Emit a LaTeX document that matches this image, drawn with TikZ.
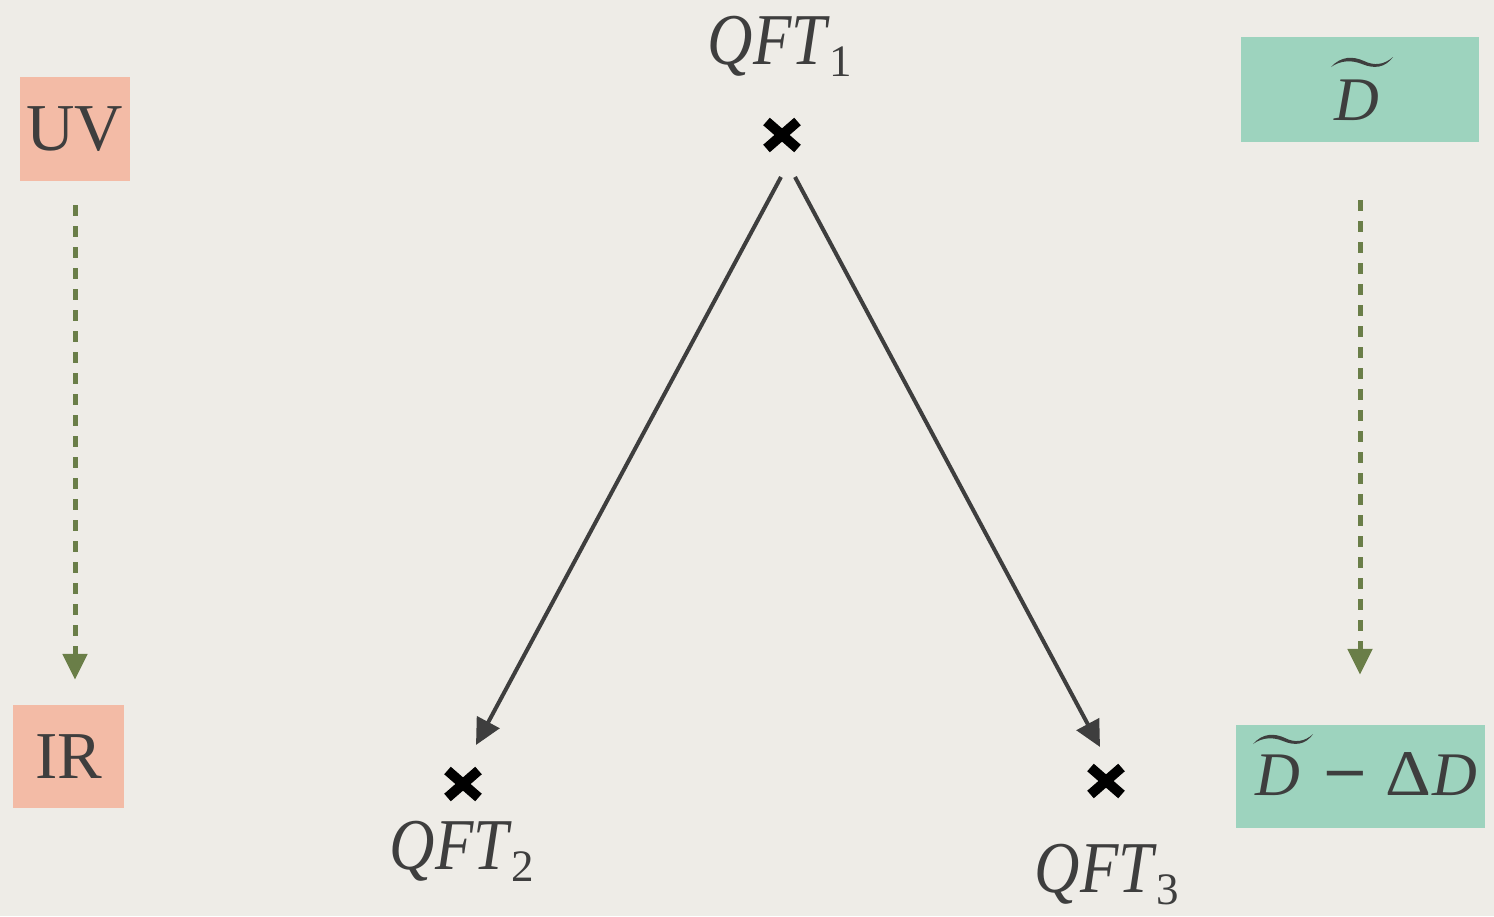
\documentclass[tikz,border=0pt]{standalone}
\usepackage{fontspec}
\setmainfont{Liberation Serif}
\usetikzlibrary{arrows.meta,shapes.misc,calc}

\definecolor{paper}{RGB}{238,236,231}
\definecolor{ink}{RGB}{62,62,62}
\definecolor{salmon}{RGB}{243,187,166}
\definecolor{mint}{RGB}{157,211,190}
\definecolor{olive}{RGB}{106,126,72}

% italic name with an upright lowered index
\newcommand{\qname}[1]{\scalebox{0.86}[1]{\itshape QFT}\hspace{3pt}{\fontsize{45}{45}\selectfont\raisebox{-12pt}{#1}}}
% bold minus sign on the math axis
\newcommand{\bigminus}{\raisebox{-9pt}{\scalebox{1.25}[1.5]{−}}}

\begin{document}
\begin{tikzpicture}[x=1pt,y=-1pt,
  box/.style={fill=#1, draw=none, inner sep=0pt, text=ink},
  bigtext/.style={font=\fontsize{67}{70}\selectfont},
  mathtext/.style={text=ink, inner sep=0pt, font=\fontsize{62}{66}\selectfont},
  qft/.style={text=ink, inner sep=0pt, font=\fontsize{73}{76}\selectfont},
  xmark/.style={cross out, draw=black, line width=10pt, minimum width=31pt,
    minimum height=27pt, inner sep=0pt, outer sep=0pt},
  flow/.style={draw=ink, line width=4pt, -{Triangle[length=26pt,width=25pt]}},
  scale arrow/.style={draw=olive, line width=5pt, dash pattern=on 11pt off 10pt,
    -{Triangle[length=26pt,width=24pt]}},
  tilde/.style={fill=ink, draw=none}
]
\useasboundingbox (0,0) rectangle (1494,916);
\fill[paper] (0,0) rectangle (1494,916);

% energy scale boxes
\node[box=salmon, bigtext, minimum width=110pt, minimum height=104pt] (uv) at (75,129) {UV};
\node[box=salmon, bigtext, minimum width=111pt, minimum height=103pt] (ir) at (68.5,756.5) {IR};
\node[box=mint, minimum width=238pt, minimum height=105pt] (dt) at (1360,89.5) {};
\node[box=mint, minimum width=249pt, minimum height=103pt] (dd) at (1360.5,776.5) {};

% dimension labels
\node[mathtext, anchor=base] (dtext) at (1357,120) {\itshape D};
\node[mathtext, anchor=base west] (ddtext) at (1255,795)
  {\itshape D\hspace{19pt}\bigminus\hspace{14pt}\upshape\scalebox{1.15}[1.05]{Δ}\hspace{1pt}\itshape D};

% wide tildes over D
\tikzset{tilde shape/.pic={
  \fill[tilde] (0,10) .. controls (10,-1) and (22,-1) .. (33,4)
    .. controls (43,9) and (53,8) .. (62,0)
    .. controls (54,11) and (43,12) .. (31,7)
    .. controls (21,3) and (10,3) .. (0,10) -- cycle;}}
\pic at (1331,57) {tilde shape};
\pic[xscale=0.97] at (1253,734) {tilde shape};

% theory points
\node[xmark] (x1) at (782,135) {};
\node[xmark] (x2) at (463,784) {};
\node[xmark] (x3) at (1106,781) {};

\node[qft, anchor=base] (q1) at (780,64) {\qname{1}};
\node[qft, anchor=base] (q2) at (462,869) {\qname{2}};
\node[qft, anchor=base] (q3) at (1107,892) {\qname{3}};

% flows between theories
\draw[flow] ([shift={(-1,42)}]x1.center) -- ([shift={(13,-39)}]x2.center);
\draw[flow] ([shift={(13,42)}]x1.center) -- ([shift={(-6,-34)}]x3.center);

% UV to IR direction
\draw[scale arrow, shorten <=24pt, shorten >=25pt] (uv.south) -- (uv.south |- ir.north);
\draw[scale arrow, shorten <=58pt, shorten >=50pt] (dt.south) -- (dt.south |- dd.north);
\end{tikzpicture}
\end{document}
